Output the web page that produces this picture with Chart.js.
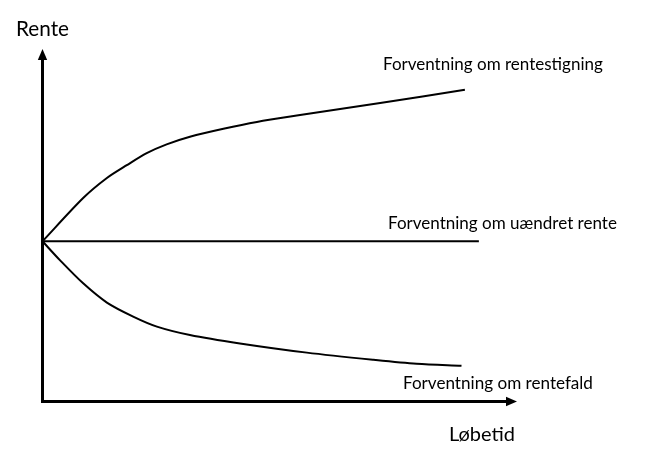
<!DOCTYPE html>
<html><head><meta charset="utf-8">
<script src="https://cdn.jsdelivr.net/npm/chart.js@4"></script>
<style>html,body{margin:0;padding:0;background:#fff;}canvas{display:block;}</style>
</head><body>
<canvas id="c" width="647" height="454"></canvas>
<script>
// Løbetid (x) and Rente (y) readings, arbitrary units
const risingX  = [0, 0.96, 1.52, 1.99, 2.46, 2.93, 3.48, 4.27, 5.06, 6.08, 7.97, 9.97];
const risingY  = [4.0, 5.08, 5.58, 5.90, 6.20, 6.42, 6.61, 6.81, 6.98, 7.15, 7.45, 7.78];
const flatX    = [0, 10.3];
const flatY    = [4.0, 4.0];
const fallingX = [0, 0.41, 0.96, 1.52, 2.14, 2.70, 3.48, 4.66, 6.24, 7.81, 8.83, 9.89];
const fallingY = [4.0, 3.53, 2.95, 2.47, 2.12, 1.87, 1.66, 1.45, 1.22, 1.04, 0.94, 0.89];
const seriesLabels = ['Forventning om rentestigning', 'Forventning om uændret rente', 'Forventning om rentefald'];
const yTitle = 'Rente';
const xTitle = 'Løbetid';
const X_MAX = 11.2, Y_MAX = 8.8;

const pts = (xs, ys) => xs.map((x, i) => ({x, y: ys[i]}));
const FONT = 'Lato, "Open Sans", sans-serif';

function fitText(ctx, text, left, baseline, width) {
  ctx.font = '100px ' + FONT;
  const w = ctx.measureText(text).width;
  const size = 100 * width / w;
  ctx.font = size.toFixed(2) + 'px ' + FONT;
  ctx.fillText(text, left, baseline);
}

const decor = {
  id: 'decor',
  afterDatasetsDraw(chart) {
    const ctx = chart.ctx, xs = chart.scales.x, ys = chart.scales.y;
    const x0 = xs.getPixelForValue(0), y0 = ys.getPixelForValue(0);
    const xEnd = xs.getPixelForValue(X_MAX), yEnd = ys.getPixelForValue(Y_MAX);
    ctx.save();
    ctx.strokeStyle = '#000'; ctx.fillStyle = '#000'; ctx.lineWidth = 3; ctx.lineCap = 'butt';
    // y axis
    ctx.beginPath(); ctx.moveTo(x0, y0 + 1.5); ctx.lineTo(x0, yEnd + 8); ctx.stroke();
    // x axis
    ctx.beginPath(); ctx.moveTo(x0 - 1.5, y0); ctx.lineTo(xEnd - 8, y0); ctx.stroke();
    // arrow heads
    ctx.beginPath(); ctx.moveTo(x0, yEnd); ctx.lineTo(x0 - 4.7, yEnd + 11); ctx.lineTo(x0 + 4.7, yEnd + 11); ctx.closePath(); ctx.fill();
    ctx.beginPath(); ctx.moveTo(xEnd, y0); ctx.lineTo(xEnd - 11, y0 - 4.7); ctx.lineTo(xEnd - 11, y0 + 4.7); ctx.closePath(); ctx.fill();
    // texts
    ctx.textAlign = 'left'; ctx.textBaseline = 'alphabetic';
    fitText(ctx, yTitle, 16, 36, 53);
    fitText(ctx, xTitle, 449, 441, 66);
    fitText(ctx, seriesLabels[0], 383, 69.5, 220);
    fitText(ctx, seriesLabels[1], 388, 229, 229);
    fitText(ctx, seriesLabels[2], 403, 389, 190);
    ctx.restore();
  }
};

const ds = (data) => ({
  data, borderColor: '#000', borderWidth: 2, pointRadius: 0, fill: false,
  tension: 0.3, clip: false
});

new Chart(document.getElementById('c'), {
  type: 'line',
  data: { datasets: [ds(pts(risingX, risingY)), ds(pts(flatX, flatY)), ds(pts(fallingX, fallingY))] },
  options: {
    responsive: false, animation: false, devicePixelRatio: 1,
    layout: { padding: { left: 42.5, right: 130, top: 49, bottom: 52.5 } },
    scales: {
      x: { type: 'linear', min: 0, max: X_MAX, display: false },
      y: { type: 'linear', min: 0, max: Y_MAX, display: false }
    },
    plugins: { legend: { display: false }, tooltip: { enabled: false } }
  },
  plugins: [decor]
});
</script>
</body></html>
